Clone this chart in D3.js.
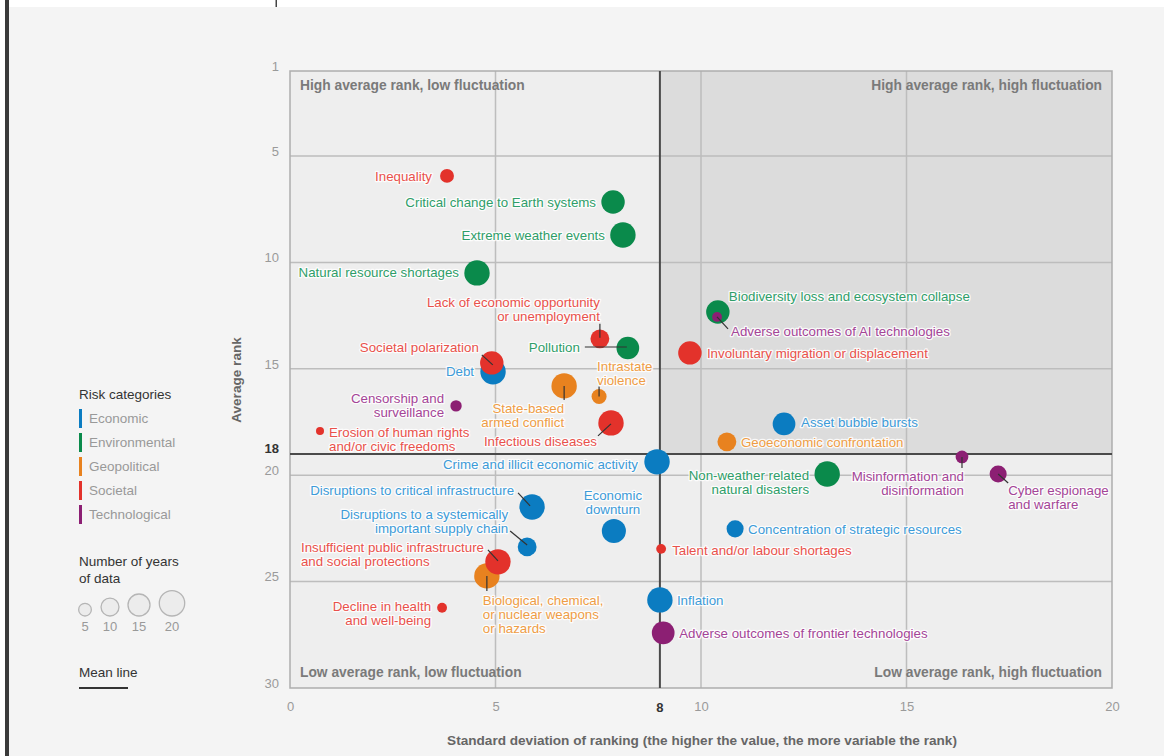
<!DOCTYPE html>
<html>
<head>
<meta charset="utf-8">
<script src="https://cdn.jsdelivr.net/npm/d3@7"></script>
<style>
  body { margin:0; background:#f4f4f4; }
  svg { display:block; font-family:"Liberation Sans", Arial, sans-serif; }
  .lbl { paint-order:stroke; stroke:#fff; stroke-width:2.6px; stroke-linejoin:round; stroke-opacity:0.85; }
</style>
</head>
<body>
<svg id="chart"></svg>
<script>
// categories
var categories = ["Economic","Environmental","Geopolitical","Societal","Technological"];

// risks: name ("|" = line break), category index, std dev, average rank, years of data
var riskNames = [
  "Inequality","Critical change to Earth systems","Extreme weather events","Natural resource shortages",
  "Lack of economic opportunity|or unemployment","Pollution","Debt","Societal polarization",
  "State-based|armed conflict","Intrastate|violence","Infectious diseases","Censorship and|surveillance",
  "Erosion of human rights|and/or civic freedoms","Crime and illicit economic activity",
  "Disruptions to critical infrastructure","Economic|downturn",
  "Disruptions to a systemically|important supply chain","Biological, chemical,|or nuclear weapons|or hazards",
  "Insufficient public infrastructure|and social protections","Decline in health|and well-being",
  "Inflation","Adverse outcomes of frontier technologies","Talent and/or labour shortages",
  "Concentration of strategic resources","Biodiversity loss and ecosystem collapse",
  "Adverse outcomes of AI technologies","Involuntary migration or displacement","Asset bubble bursts",
  "Geoeconomic confrontation","Non-weather related|natural disasters","Misinformation and|disinformation",
  "Cyber espionage|and warfare"
];
var riskCategory = [3,1,1,1, 3,1,0,3, 2,2,3,4, 3,0, 0,0, 0,2, 3,3, 0,4,3, 0,1, 4,3,0, 2,1,4, 4];
var stdDev  = [3.82,7.86,8.10,4.55, 7.54,8.22,4.94,4.91, 6.67,7.52,7.81,4.04, 0.73,8.93, 5.89,7.88,
               5.77,4.79, 5.06,3.70, 9.00,9.08,9.03, 10.83,10.41, 10.39,9.73,12.02, 10.63,13.07,16.35, 17.23];
var avgRank = [5.93,7.16,8.71,10.49, 13.59,14.02,15.14,14.72, 15.8,16.3,17.54,16.74, 17.92,19.37, 21.49,22.62,
               23.37,24.73, 24.07,26.23, 25.86,27.41,23.46, 22.52,12.33, 12.56,14.25,17.59, 18.43,19.94,19.14, 19.94];
var years   = [6,17,20,20, 11,16,20,17, 20,7,20,4, 2,20, 20,18, 11,20, 20,3, 20,16,3, 9,17, 3,17,16, 11,20,5, 9];

// axis ticks
var xTicks = [0,5,10,15,20];
var yTicks = [1,5,10,15,20,25,30];
var meanPos = [9,19];          // where the mean lines sit on the scales
var meanLabels = ["8","18"];
var sizeLegend = [5,10,15,20];

drawRiskChart("#chart");

function drawRiskChart(id){
  var W = 1164, H = 756;
  var catColor  = ["#0b7cc1","#0a8a4b","#e8821f","#e3322b","#8c1f73"];
  var textColor = ["#3d9bd8","#2f9e69","#ef9d45","#e9514b","#a44597"];
  var fs = "13.3px";

  // label placement: anchor, dx, dy, leader [x1,y1,x2,y2] relative to the dot
  var place = [
    ["end",-15,0],["end",-17,0],["end",-18,0],["end",-18,-1],
    ["end",0,-37,[0,-1,0,-15]],["end",-48,-1,[-43,-1,-1,-1]],["end",-19,0],["end",-13,-16,[-10,-8,1,2]],
    ["end",0,22,[0,0,0,14]],["start",-2,-30,[0,-10,0,0]],["end",-14,18,[-13,13,0,1]],["end",-12,-8],
    ["start",9,1],["end",-19,3],
    ["end",-18,-17,[-14,-14,-2,-1]],["middle",-1,-36],
    ["end",-19,-33,[-17,-16,0,-2]],["start",-4,24,[0,0,0,15]],
    ["start",-197,-14,[-10,-12,0,-1]],["end",-11,-1],
    ["start",17,0],["start",16,0],["start",11,1],
    ["start",13,0],["start",11,-16],
    ["start",14,14,[0,0,11,12]],["start",17,0],["start",17,-2],
    ["start",14,1],["end",-18,1],["end",2,19,[0,0,0,11]],
    ["start",10,16,[0,0,10,9]]
  ];

  var data = riskNames.map(function(n,i){
    return {name:n, cat:riskCategory[i], x:stdDev[i], y:avgRank[i], yrs:years[i], p:place[i]};
  });

  var x = d3.scaleLinear().domain([0,20]).range([290,1112]);
  var y = d3.scaleLinear().domain([1,30]).range([71,688]);
  var r = d3.scaleSqrt().domain([0,20]).range([0,12.7]);

  var svg = d3.select(id).attr("width",W).attr("height",H);

  // page frame
  svg.append("rect").attr("width",W).attr("height",H).attr("fill","#f4f4f4");
  svg.append("rect").attr("width",W).attr("height",7).attr("fill","#ffffff");
  svg.append("rect").attr("width",5).attr("height",H).attr("fill","#ffffff");
  svg.append("rect").attr("x",5).attr("width",4).attr("height",H).attr("fill","#3a3a3a");
  svg.append("rect").attr("x",275.5).attr("width",1.5).attr("height",7).attr("fill","#444");

  // plot background + shaded quadrant
  svg.append("rect")
     .attr("x",x(0)).attr("y",y(1))
     .attr("width",x(20)-x(0)).attr("height",y(30)-y(1))
     .attr("fill","#eeeeee");
  svg.append("rect")
     .attr("x",x(meanPos[0])).attr("y",y(1))
     .attr("width",x(20)-x(meanPos[0])).attr("height",y(meanPos[1])-y(1))
     .attr("fill","#dcdcdc");

  // grid
  var g = svg.append("g").attr("stroke","#bdbdbd").attr("stroke-width",1.5);
  g.selectAll(".vg").data([5,10,15]).enter().append("line")
   .attr("x1",function(d){return x(d);}).attr("x2",function(d){return x(d);})
   .attr("y1",y(1)).attr("y2",y(30));
  g.selectAll(".hg").data([5,10,15,20,25]).enter().append("line")
   .attr("x1",x(0)).attr("x2",x(20))
   .attr("y1",function(d){return y(d);}).attr("y2",function(d){return y(d);});
  svg.append("rect")
     .attr("x",x(0)).attr("y",y(1))
     .attr("width",x(20)-x(0)).attr("height",y(30)-y(1))
     .attr("fill","none").attr("stroke","#adadad").attr("stroke-width",1.5);

  // mean lines
  svg.append("line").attr("x1",x(meanPos[0])).attr("x2",x(meanPos[0]))
     .attr("y1",y(1)).attr("y2",y(30)).attr("stroke","#4a4a4a").attr("stroke-width",2);
  svg.append("line").attr("x1",x(0)).attr("x2",x(20))
     .attr("y1",y(meanPos[1])).attr("y2",y(meanPos[1])).attr("stroke","#4a4a4a").attr("stroke-width",2);

  // axes
  var xAxis = svg.append("g").attr("transform","translate(0,"+(y(30)+4)+")")
     .call(d3.axisBottom(x).tickValues(xTicks).tickSize(0).tickPadding(10));
  var yAxis = svg.append("g").attr("transform","translate("+(x(0)-11)+",0)")
     .call(d3.axisLeft(y).tickValues(yTicks).tickSize(0).tickPadding(0));
  [xAxis,yAxis].forEach(function(a){
    a.select(".domain").remove();
    a.selectAll("text").attr("fill","#9a9a9a").attr("font-size","13px")
     .attr("font-family","Liberation Sans, Arial, sans-serif");
  });
  yAxis.selectAll("text").attr("dy","-0.05em");

  svg.append("text").attr("x",x(meanPos[0])).attr("y",y(30)+24)
     .attr("text-anchor","middle").attr("font-size","13px").attr("font-weight","bold")
     .attr("fill","#333").text(meanLabels[0]);
  svg.append("text").attr("x",x(0)-11).attr("y",y(meanPos[1])).attr("dy","-0.05em")
     .attr("text-anchor","end").attr("font-size","13px").attr("font-weight","bold")
     .attr("fill","#333").text(meanLabels[1]);

  // axis titles
  svg.append("text").attr("transform","translate(241,380) rotate(-90)")
     .attr("text-anchor","middle").attr("font-size","13.6px").attr("font-weight","bold")
     .attr("fill","#666").text("Average rank");
  svg.append("text").attr("x",702).attr("y",745)
     .attr("text-anchor","middle").attr("font-size","13.6px").attr("font-weight","bold")
     .attr("fill","#666").text("Standard deviation of ranking (the higher the value, the more variable the rank)");

  // quadrant titles
  var quad = [["High average rank, low fluctuation","start",x(0)+10,y(1)+19],
              ["High average rank, high fluctuation","end",x(20)-10,y(1)+19],
              ["Low average rank, low fluctuation","start",x(0)+10,y(30)-11],
              ["Low average rank, high fluctuation","end",x(20)-10,y(30)-11]];
  svg.selectAll(".quad").data(quad).enter().append("text")
     .attr("x",function(d){return d[2];}).attr("y",function(d){return d[3];})
     .attr("text-anchor",function(d){return d[1];})
     .attr("font-size","13.8px").attr("font-weight","bold").attr("fill","#7a7a7a")
     .text(function(d){return d[0];});

  // dots, biggest first
  var sorted = data.slice().sort(function(a,b){return b.yrs-a.yrs;});
  svg.selectAll(".dot").data(sorted).enter().append("circle")
     .attr("cx",function(d){return x(d.x);})
     .attr("cy",function(d){return y(d.y);})
     .attr("r",function(d){return r(d.yrs);})
     .attr("fill",function(d){return catColor[d.cat];});

  // leader lines
  svg.selectAll(".lead").data(data.filter(function(d){return d.p[3];})).enter().append("line")
     .attr("x1",function(d){return x(d.x)+d.p[3][0];})
     .attr("y1",function(d){return y(d.y)+d.p[3][1];})
     .attr("x2",function(d){return x(d.x)+d.p[3][2];})
     .attr("y2",function(d){return y(d.y)+d.p[3][3];})
     .attr("stroke","#333").attr("stroke-width",1.2);

  // labels
  var lbl = svg.selectAll(".lbl").data(data).enter().append("text")
     .attr("class","lbl")
     .attr("font-size",fs)
     .attr("text-anchor",function(d){return d.p[0];})
     .attr("fill",function(d){return textColor[d.cat];});
  lbl.each(function(d){
    var t = d3.select(this);
    var lines = d.name.split("|");
    lines.forEach(function(s,k){
      t.append("tspan")
       .attr("x",x(d.x)+d.p[1])
       .attr("y",y(d.y)+d.p[2]+k*14)
       .attr("dy","0.35em")
       .text(s);
    });
  });

  // legend: categories
  var lg = svg.append("g");
  lg.append("text").attr("x",79).attr("y",399).attr("font-size","13.5px").attr("fill","#333")
    .text("Risk categories");
  lg.selectAll(".cb").data(categories).enter().append("rect")
    .attr("x",79).attr("y",function(d,i){return 409+i*24;})
    .attr("width",3).attr("height",19)
    .attr("fill",function(d,i){return catColor[i];});
  lg.selectAll(".ct").data(categories).enter().append("text")
    .attr("x",89).attr("y",function(d,i){return 418+i*24;}).attr("dy","0.35em")
    .attr("font-size","13.5px").attr("fill","#999")
    .text(function(d){return d;});

  // legend: size
  lg.append("text").attr("x",79).attr("y",566).attr("font-size","13.5px").attr("fill","#333")
    .text("Number of years");
  lg.append("text").attr("x",79).attr("y",583).attr("font-size","13.5px").attr("fill","#333")
    .text("of data");
  var sizeX = [85,110,139,172];
  lg.selectAll(".sc").data(sizeLegend).enter().append("circle")
    .attr("cx",function(d,i){return sizeX[i];})
    .attr("cy",function(d){return 616-r(d);})
    .attr("r",function(d){return r(d);})
    .attr("fill","#ececec").attr("stroke","#b5b5b5").attr("stroke-width",1.3);
  lg.selectAll(".st").data(sizeLegend).enter().append("text")
    .attr("x",function(d,i){return sizeX[i];}).attr("y",631)
    .attr("text-anchor","middle").attr("font-size","13px").attr("fill","#999")
    .text(function(d){return d;});

  // legend: mean line
  lg.append("text").attr("x",79).attr("y",677).attr("font-size","13.5px").attr("fill","#333")
    .text("Mean line");
  lg.append("line").attr("x1",79).attr("x2",128).attr("y1",688).attr("y2",688)
    .attr("stroke","#333").attr("stroke-width",2);
}
</script>
</body>
</html>
